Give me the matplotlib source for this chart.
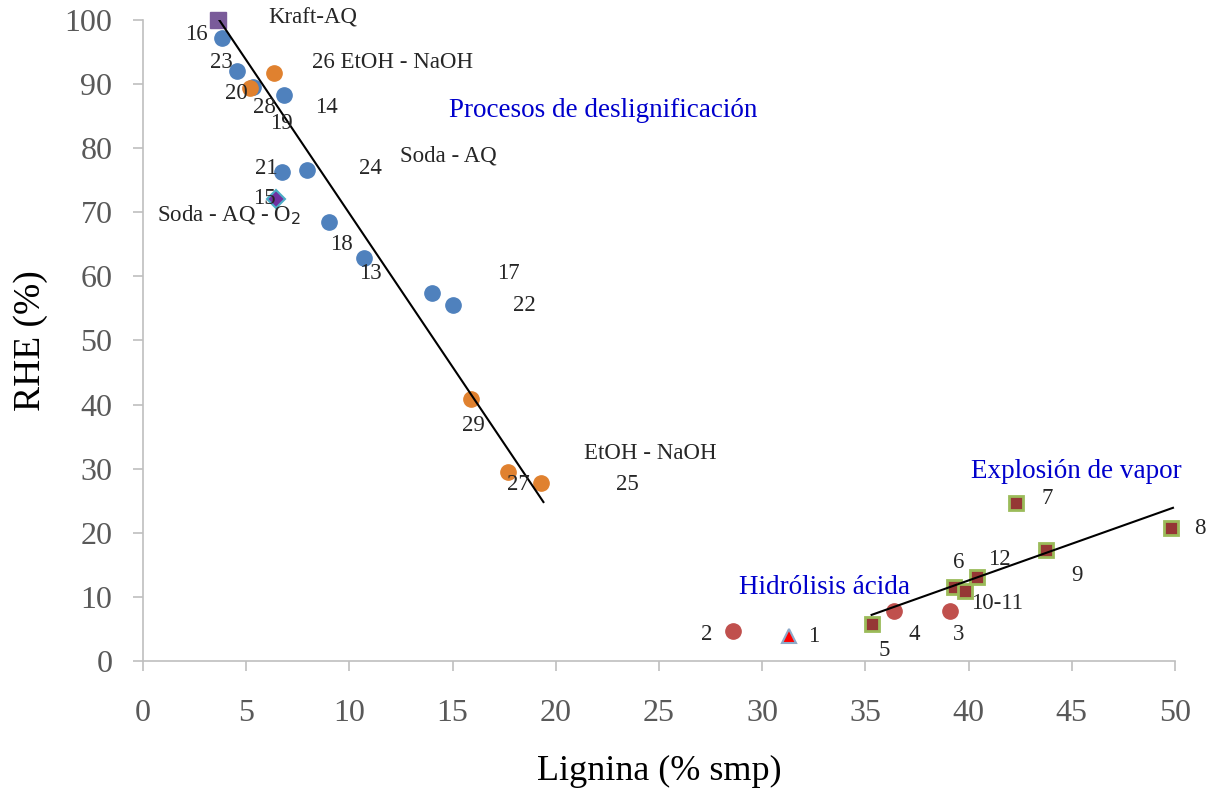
import matplotlib
matplotlib.use("Agg")
import matplotlib.pyplot as plt

plt.rcParams['font.family'] = ['Liberation Serif', 'DejaVu Serif']

# ---- data ----
kraft_x = [3.63]; kraft_y = [100.0]
soda_x = [3.83, 4.55, 5.33, 6.83, 6.73, 7.95, 9.0, 10.7, 14.0, 15.0]
soda_y = [97.2, 92.0, 89.5, 88.3, 76.3, 76.6, 68.5, 62.9, 57.4, 55.5]
etoh_x = [6.35, 5.18, 15.9, 17.7, 19.3]
etoh_y = [91.7, 89.4, 40.9, 29.5, 27.8]
sodao2_x = [6.44]; sodao2_y = [72.1]
acid_x = [28.6, 36.4, 39.1]
acid_y = [4.7, 7.8, 7.8]
acid1_x = [31.3]; acid1_y = [3.9]
steam_x = [35.3, 39.3, 39.8, 40.4, 43.75, 42.3, 49.8]
steam_y = [5.8, 11.5, 10.9, 13.1, 17.3, 24.6, 20.7]

trend1_x = [3.63, 19.4]; trend1_y = [100.3, 24.8]
trend2_x = [35.3, 49.9]; trend2_y = [7.2, 23.9]

labels = ["Kraft-AQ", "16", "23", "26 EtOH - NaOH", "20", "28", "19", "14",
          "Soda - AQ", "24", "21", "15", "Soda - AQ - O$_2$", "18", "13", "17",
          "22", "29", "27", "EtOH - NaOH", "25", "7", "8", "6", "12", "9",
          "10-11", "2", "1", "4", "3", "5"]
label_x = [8.24, 2.6, 3.8, 12.1, 4.5, 5.9, 6.7, 8.87,
           14.8, 11.0, 5.96, 5.9, 4.17, 9.6, 11.0, 17.7,
           18.5, 16.0, 18.2, 24.6, 23.45, 43.8, 51.2, 39.5, 41.5, 45.25,
           41.4, 27.3, 32.5, 37.35, 39.5, 35.9]
label_y = [100.3, 97.7, 93.3, 93.3, 88.6, 86.3, 83.9, 86.3,
           78.8, 76.9, 76.9, 72.1, 69.6, 65.0, 60.4, 60.4,
           55.5, 36.8, 27.5, 32.4, 27.5, 25.3, 20.6, 15.4, 15.8, 13.4,
           8.9, 4.2, 3.9, 4.2, 4.2, 1.7]

group_labels = ["Procesos de deslignificación", "Explosión de vapor", "Hidrólisis ácida"]
group_x = [22.3, 45.2, 33.0]
group_y = [85.8, 29.5, 11.5]

# ---- figure ----
fig = plt.figure(figsize=(12.12, 7.89), dpi=100)
ax = fig.add_axes([0.118, 0.1622, 0.8515, 0.8125])

ax.plot(trend1_x, trend1_y, color='black', lw=1.5, zorder=3)
ax.plot(trend2_x, trend2_y, color='black', lw=1.5, zorder=3)

ms = 11
kw = dict(linestyle='none', clip_on=False, zorder=2)
ax.plot(soda_x, soda_y, marker='o', color='#4F81BD', ms=ms, mec='#4F81BD', **kw)
ax.plot(etoh_x, etoh_y, marker='o', color='#E0812F', ms=ms, mec='#E0812F', **kw)
ax.plot(kraft_x, kraft_y, marker='s', color='#7A5B9A', ms=11, mec='#7A5B9A', **kw)
ax.plot(sodao2_x, sodao2_y, marker='D', color='#7030A0', ms=9, mec='#4BACC6', mew=1.5, **kw)
ax.plot(acid_x, acid_y, marker='o', color='#C0504D', ms=ms, mec='#C0504D', **kw)
ax.plot(acid1_x, acid1_y, marker='^', color='#FF0000', ms=10, mec='#8EA9C8', mew=1.5, **kw)
ax.plot(steam_x, steam_y, marker='s', color='#953735', ms=10, mec='#9BBB59', mew=2, **kw)

for t, x, y in zip(labels, label_x, label_y):
    ax.text(x, y, t, fontsize=16.5, color='#262626', ha='center', va='center', zorder=4)

for t, x, y in zip(group_labels, group_x, group_y):
    ax.text(x, y, t, fontsize=19.5, color='#0000CC', ha='center', va='center', zorder=4)

ax.set_xlim(0, 50)
ax.set_ylim(0, 100)
ax.set_xticks(range(0, 51, 5))
ax.set_yticks(range(0, 101, 10))
for s in ['top', 'right']:
    ax.spines[s].set_visible(False)
for s in ['left', 'bottom']:
    ax.spines[s].set_color('#BFBFBF')
    ax.spines[s].set_linewidth(1.2)
ax.tick_params(axis='both', colors='#BFBFBF', length=7, width=1.2,
               labelcolor='#595959', labelsize=23)
ax.tick_params(axis='x', pad=20)
ax.tick_params(axis='y', pad=15)
ax.set_xlabel('Lignina (% smp)', fontsize=26, color='black', labelpad=20)
ax.set_ylabel('RHE (%)', fontsize=27, color='black', labelpad=12)

fig.savefig('out.png', dpi=100)
